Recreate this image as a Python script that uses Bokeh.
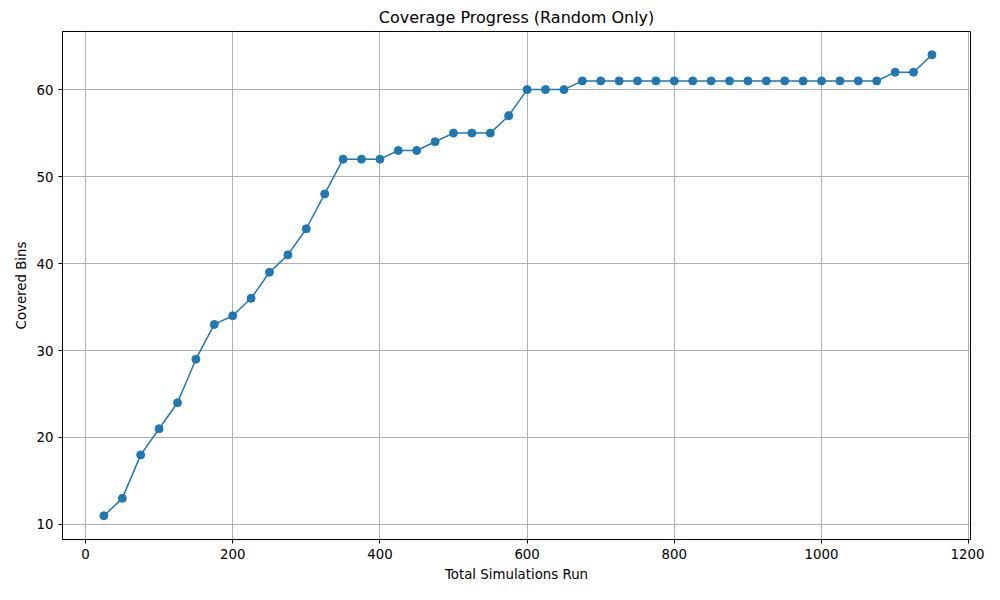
from bokeh.plotting import figure
from bokeh.models import ColumnDataSource, Range1d
from bokeh.embed import file_html
from bokeh.resources import INLINE

sims = [25 * (i + 1) for i in range(46)]
covered = [11, 13, 18, 21, 24, 29, 33, 34, 36, 39, 41, 44, 48, 52, 52, 52, 53, 53, 54, 55, 55, 55, 57,
           60, 60, 60] + [61] * 17 + [62, 62, 64]

src = ColumnDataSource(dict(x=sims, y=covered))

p = figure(width=984, height=584, output_backend="svg", toolbar_location=None,
           title="Coverage Progress (Random Only)",
           x_axis_label="Total Simulations Run", y_axis_label="Covered Bins",
           x_range=Range1d(-31.25, 1202.4), y_range=Range1d(8.27, 66.68),
           min_border_left=62, min_border_right=14, min_border_top=31, min_border_bottom=42)

p.line("x", "y", source=src, color="#1f77b4", line_width=1.5)
p.scatter("x", "y", source=src, color="#1f77b4", size=8)

p.title.align = "center"
p.title.text_font = "DejaVu Sans"
p.title.text_font_style = "normal"
p.title.text_font_size = "12pt"
p.title.text_color = "black"
p.outline_line_color = "black"
for ax in (p.xaxis, p.yaxis):
    ax.axis_label_text_font = "DejaVu Sans"
    ax.axis_label_text_font_style = "normal"
    ax.axis_label_text_font_size = "10pt"
    ax.axis_label_text_color = "black"
    ax.major_label_text_font = "DejaVu Sans"
    ax.major_label_text_font_size = "10pt"
    ax.major_label_text_color = "black"
    ax.axis_line_color = "black"
    ax.major_tick_line_color = "black"
    ax.minor_tick_line_color = None
    ax.major_tick_in = 0
    ax.major_tick_out = 4
p.xaxis.ticker = [0, 200, 400, 600, 800, 1000, 1200]
p.yaxis.ticker = [10, 20, 30, 40, 50, 60]
p.grid.grid_line_color = "#b0b0b0"
p.grid.grid_line_alpha = 1.0

open("out.html", "w").write(file_html(p, INLINE))
